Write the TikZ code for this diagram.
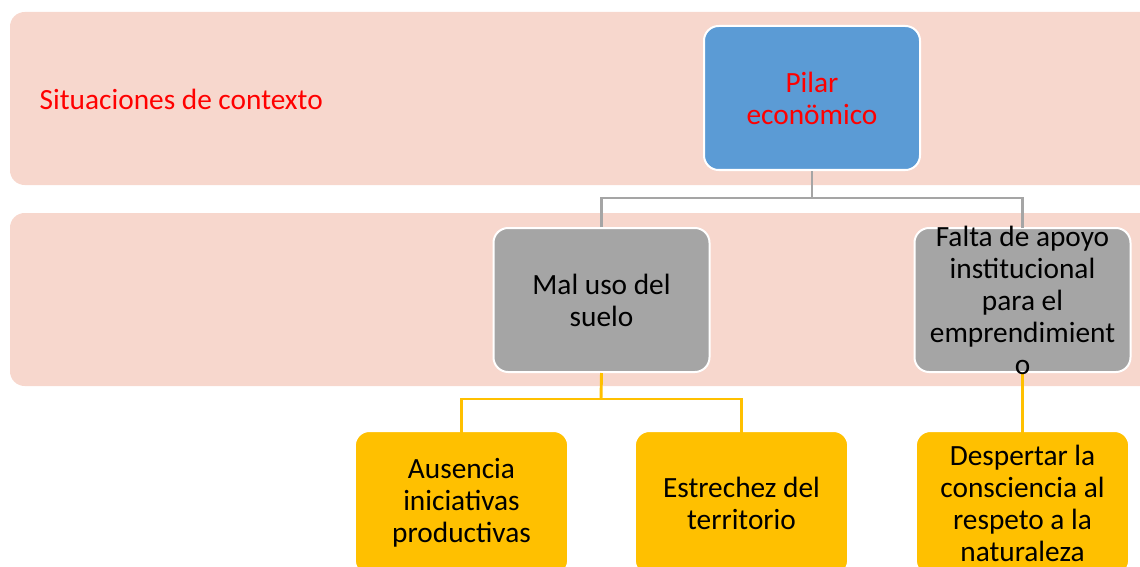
\documentclass[tikz,border=0pt]{standalone}
\usepackage{fontspec}
\setmainfont{Carlito}
\definecolor{band}{HTML}{F7D7CD}
\definecolor{pblue}{HTML}{5B9BD5}
\definecolor{pgray}{HTML}{A5A5A5}
\definecolor{pyellow}{HTML}{FFC000}
\definecolor{pred}{HTML}{FF0000}
\begin{document}
\begin{tikzpicture}[x=0.75pt,y=-0.75pt,
  txt/.style={font=\fontsize{22}{24}\selectfont, align=center},
  box/.style={draw=white, line width=1.5pt, rounded corners=11pt, minimum width=162pt, minimum height=108pt, inner sep=0pt, txt},
  bluebox/.style={box, fill=pblue, text=pred},
  graybox/.style={box, fill=pgray, text=black},
  yelbox/.style={box, fill=pyellow, text=black, minimum width=160pt},
  grayline/.style={draw=pgray, line width=2.2pt},
  yelline/.style={draw=pyellow, line width=2.2pt}]
\useasboundingbox (0,0) rectangle (1140,567);
\clip (0,0) rectangle (1140,567);
% bands
\fill[band, rounded corners=11pt] (10,12) rectangle (1170,185);
\fill[band, rounded corners=11pt] (10,213) rectangle (1170,386);
\node[txt, text=pred, anchor=west] (ctx) at (35,99) {Situaciones de contexto};
\coordinate (gj) at (812,198);
\coordinate (yj) at (601,399);
\node[bluebox] (pilar) at (812,98) {Pilar\\econömico};
\node[graybox] (mal) at (601.5,300) {Mal uso del\\suelo};
\node[graybox] (falta) at (1022.5,300) {};
\node[yelbox] (aus) at (461.5,503) {Ausencia\\iniciativas\\productivas};
\node[yelbox] (est) at (741.5,503) {Estrechez del\\territorio};
\node[yelbox] (desp) at (1022.5,503) {Despertar la\\consciencia al\\respeto a la\\naturaleza};
\draw[grayline] (pilar.south) -- (gj);
\draw[grayline] (mal.north) -- (mal.north |- gj) -- (falta.north |- gj) -- ([yshift=-1pt]falta.north);
\draw[yelline] (mal.south) -- (yj);
\draw[yelline] ([yshift=-2pt]aus.north) -- (aus.north |- yj) -- (est.north |- yj) -- ([yshift=-2pt]est.north);
\draw[yelline] (falta.south) -- ([yshift=-2pt]desp.north);
\node[txt, text=black] (faltatxt) at (1022.5,300) {Falta de apoyo\\institucional\\para el\\emprendimient\\o};
\end{tikzpicture}
\end{document}
